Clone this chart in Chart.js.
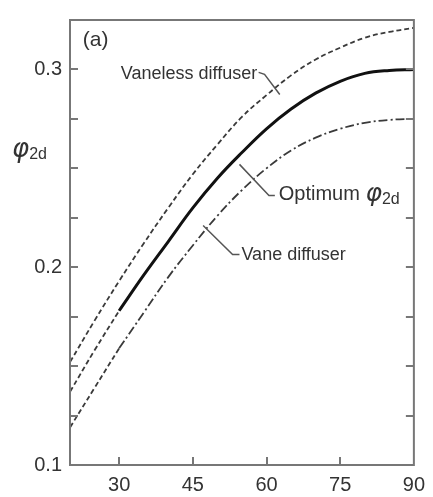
<!DOCTYPE html>
<html>
<head>
<meta charset="utf-8">
<script src="https://cdn.jsdelivr.net/npm/chart.js@4.4.1/dist/chart.umd.min.js"></script>
<style>
  html, body { margin: 0; padding: 0; background: #fff; }
  #wrap { width: 433px; height: 497px; }
</style>
</head>
<body>
<div id="wrap"><canvas id="c" width="433" height="497"></canvas></div>
<script>
// Blade outlet angle (deg) against diffuser flow coefficient
const angles = [20, 25, 30, 35, 40, 45, 50, 55, 60, 65, 70, 75, 80, 85, 90];
const vaneless = [0.152, 0.173, 0.193, 0.212, 0.230, 0.247, 0.262, 0.276, 0.287, 0.297, 0.305, 0.311, 0.316, 0.319, 0.321];

const optimumAngles = [30, 35, 40, 45, 50, 55, 60, 65, 70, 75, 80, 85, 90];
const optimum = [0.178, 0.196, 0.213, 0.230, 0.245, 0.258, 0.270, 0.280, 0.288, 0.294, 0.298, 0.2995, 0.300];
const optimumExtAngles = [20, 25, 30];
const optimumExt = [0.137, 0.158, 0.178];

const vaneAngles = [30, 35, 40, 45, 50, 55, 60, 65, 70, 75, 80, 85, 90];
const vane = [0.159, 0.177, 0.195, 0.211, 0.226, 0.239, 0.250, 0.259, 0.2655, 0.270, 0.273, 0.2745, 0.275];
const vaneExtAngles = [20, 25, 30];
const vaneExt = [0.119, 0.139, 0.159];

const xTicks = [30, 45, 60, 75, 90];
const yTicks = [0.1, 0.125, 0.15, 0.175, 0.2, 0.225, 0.25, 0.275, 0.3, 0.325];
const yLabels = ['0.1', '0.2', '0.3'];

const pts = (xs, ys) => xs.map((x, i) => ({ x: x, y: ys[i] }));

const TEXT = '#333';
const FRAME = '#777';

function line(data, color, width, dash) {
  return {
    data: data, showLine: true, borderColor: color, borderWidth: width,
    borderDash: dash, pointRadius: 0, fill: false, tension: 0.4
  };
}

// frame, inward ticks and labels
const decor = {
  id: 'decor',
  afterDatasetsDraw(chart) {
    const { ctx, chartArea: a, scales: { x, y } } = chart;
    ctx.save();
    ctx.strokeStyle = FRAME;
    ctx.lineWidth = 2;
    ctx.strokeRect(a.left, a.top, a.right - a.left, a.bottom - a.top);
    ctx.beginPath();
    const tl = 8;
    yTicks.slice(1, -1).forEach(v => {
      const py = Math.round(y.getPixelForValue(v));
      ctx.moveTo(a.left, py); ctx.lineTo(a.left + tl, py);
      ctx.moveTo(a.right, py); ctx.lineTo(a.right - tl, py);
    });
    xTicks.slice(0, -1).forEach(v => {
      const px = Math.round(x.getPixelForValue(v));
      ctx.moveTo(px, a.bottom); ctx.lineTo(px, a.bottom - tl);
    });
    ctx.stroke();

    // leader lines
    ctx.strokeStyle = '#555';
    ctx.lineWidth = 1.5;
    const path = (list) => {
      ctx.beginPath();
      list.forEach((p, i) => {
        const px = x.getPixelForValue(p[0]), py = y.getPixelForValue(p[1]);
        i ? ctx.lineTo(px, py) : ctx.moveTo(px, py);
      });
      ctx.stroke();
    };
    path([[58.4, 0.2985], [59.6, 0.2975], [62.7, 0.2873]]);
    path([[54.5, 0.2520], [60.5, 0.2363], [61.7, 0.2363]]);
    path([[47.1, 0.2211], [53.1, 0.2064], [54.5, 0.2064]]);

    ctx.fillStyle = TEXT;
    ctx.textBaseline = 'middle';
    ctx.font = '18px "Liberation Sans", Arial, sans-serif';
    ctx.textAlign = 'right';
    ctx.fillText('Vaneless diffuser', x.getPixelForValue(58.1), y.getPixelForValue(0.2975));
    ctx.textAlign = 'left';
    ctx.fillText('Vane diffuser', x.getPixelForValue(54.9), y.getPixelForValue(0.2064));

    ctx.font = '20px "Liberation Sans", Arial, sans-serif';
    const ox = x.getPixelForValue(62.5), oy = y.getPixelForValue(0.2368);
    ctx.fillText('Optimum ', ox, oy);
    const ow = ctx.measureText('Optimum ').width;
    ctx.font = 'italic 25px "DejaVu Sans", sans-serif';
    ctx.fillText('φ', ox + ow, oy);
    const pw = ctx.measureText('φ').width;
    ctx.font = '16px "Liberation Sans", Arial, sans-serif';
    ctx.fillText('2d', ox + ow + pw, oy + 5);

    ctx.font = '21px "Liberation Sans", Arial, sans-serif';
    ctx.fillText('(a)', x.getPixelForValue(22.6), y.getPixelForValue(0.3147));

    // axis title
    const tx = a.left - 58, ty = y.getPixelForValue(0.2593);
    ctx.font = 'italic 26px "DejaVu Sans", sans-serif';
    ctx.fillText('φ', tx, ty);
    const tw = ctx.measureText('φ').width;
    ctx.font = '16px "Liberation Sans", Arial, sans-serif';
    ctx.fillText('2d', tx + tw, ty + 5);
    ctx.restore();
  }
};

new Chart(document.getElementById('c'), {
  type: 'scatter',
  data: {
    datasets: [
      line(pts(angles, vaneless), '#3a3a3a', 1.8, [5, 3]),
      line(pts(optimumExtAngles, optimumExt), '#3a3a3a', 1.8, [5, 3]),
      line(pts(vaneExtAngles, vaneExt), '#3a3a3a', 1.8, [5, 3]),
      line(pts(vaneAngles, vane), '#3a3a3a', 1.8, [9, 3, 2, 3]),
      line(pts(optimumAngles, optimum), '#111', 3, [])
    ]
  },
  options: {
    responsive: false,
    animation: false,
    devicePixelRatio: 1,
    layout: { padding: { top: 7, right: 14, left: 0, bottom: 0 } },
    plugins: { legend: { display: false }, tooltip: { enabled: false } },
    scales: {
      x: {
        type: 'linear', min: 20, max: 90,
        afterBuildTicks: s => { s.ticks = xTicks.map(v => ({ value: v })); },
        afterFit: s => { s.height = 32; },
        grid: { display: false, drawTicks: false },
        border: { display: false },
        ticks: {
          padding: 8, color: TEXT, maxRotation: 0, autoSkip: false,
          font: { size: 20, family: '"Liberation Sans", Arial, sans-serif' }
        }
      },
      y: {
        type: 'linear', min: 0.1, max: 0.325,
        afterBuildTicks: s => { s.ticks = yTicks.map(v => ({ value: v })); },
        afterFit: s => { s.width = 70; },
        grid: { display: false, drawTicks: false },
        border: { display: false },
        ticks: {
          padding: 8, color: TEXT, autoSkip: false,
          font: { size: 20, family: '"Liberation Sans", Arial, sans-serif' },
          callback: v => { const t = v.toFixed(1); return (yLabels.includes(t) && Math.abs(v - Number(t)) < 1e-6) ? t : ''; }
        }
      }
    }
  },
  plugins: [decor]
});
</script>
</body>
</html>
